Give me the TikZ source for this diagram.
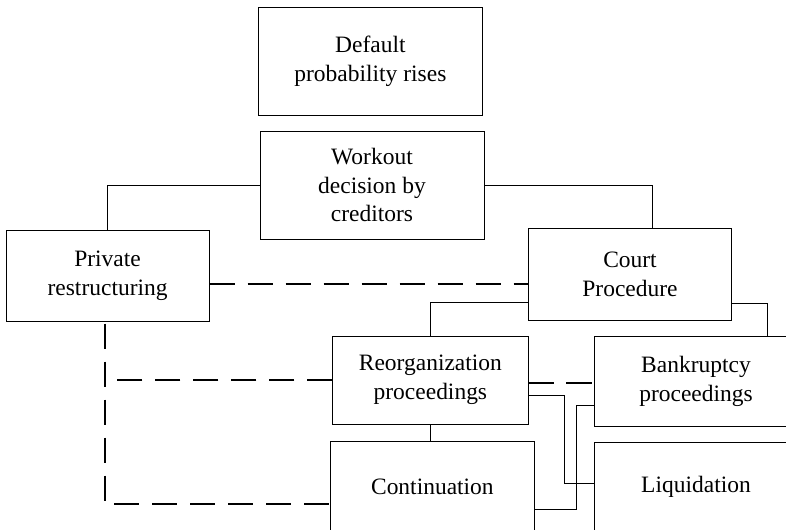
\documentclass[tikz,border=0pt]{standalone}
\usepackage{fontspec}
\setmainfont{Liberation Serif}
\usepackage{tikz}
\usetikzlibrary{positioning}

\tikzset{
    box/.style={draw, line width=0.7pt, align=center, inner sep=0pt,
        font=\fontsize{16.7}{20.6}\selectfont},
    link/.style={line width=0.7pt},
    dashlink/.style={line width=1.7pt, dash pattern=on 0.63cm off 0.32cm}
}

\begin{document}
\begin{tikzpicture}
                            \useasboundingbox (0, 0) rectangle (19.65, 13.25);

                            \node[box, minimum width=5.6cm, minimum height=2.7cm] (default) at (9.26, 11.71) {Default\\probability rises};
                            \node[box, minimum width=5.6cm, minimum height=2.7cm] (workout) at (9.30, 8.625) {Workout\\decision by\\creditors};
                            \node[box, minimum width=5.08cm, minimum height=2.28cm] (private) at (2.69, 6.36) {Private\\restructuring};
                            \node[box, minimum width=5.08cm, minimum height=2.28cm] (court) at (15.75, 6.39) {Court\\Procedure};
                            \node[box, minimum width=4.88cm, minimum height=2.2cm] (reorg) at (10.76, 3.75) {Reorganization\\proceedings};
                            \node[box, minimum width=5.1cm, minimum height=2.25cm] (bankrupt) at (17.4, 3.725) {Bankruptcy\\proceedings};
                            \node[box, minimum width=5.08cm, minimum height=2.3cm] (contin) at (10.81, 1.075) {Continuation};
                            \node[box, minimum width=5.1cm, minimum height=2.25cm] (liquid) at (17.4, 1.075) {Liquidation};

                            \draw[link]
                            (workout.west) -| (private.north)
                            (workout.east) -| ([xshift=0.56cm]court.north)
                            ([yshift=-0.71cm]court.west) -| (reorg.north)
                            ([yshift=-0.73cm]court.east) -| ([xshift=1.79cm]bankrupt.north)
                            (reorg.south) -- (reorg.south |- contin.north)
                            ([yshift=-0.39cm]reorg.east) -- ++(0.9, 0) |- ([yshift=0.08cm]liquid.west)
                            ([yshift=-0.6cm]bankrupt.west) -- ++(-0.43, 0) |- ([yshift=-0.55cm]contin.east);

                            \draw[dashlink]
                            ([yshift=-0.21cm]private.east) -- ([yshift=-0.21cm]private.east -| court.west)
                            ([yshift=-0.07cm]reorg.east) -- ([yshift=-0.07cm]reorg.east -| bankrupt.west)
                            ([xshift=-0.07cm, yshift=-0.05cm]private.south) |- ([yshift=-0.43cm]contin.west)
                            (reorg.west) -- ([xshift=-0.07cm]private.south |- reorg.west);
                        \end{tikzpicture}
\end{document}
